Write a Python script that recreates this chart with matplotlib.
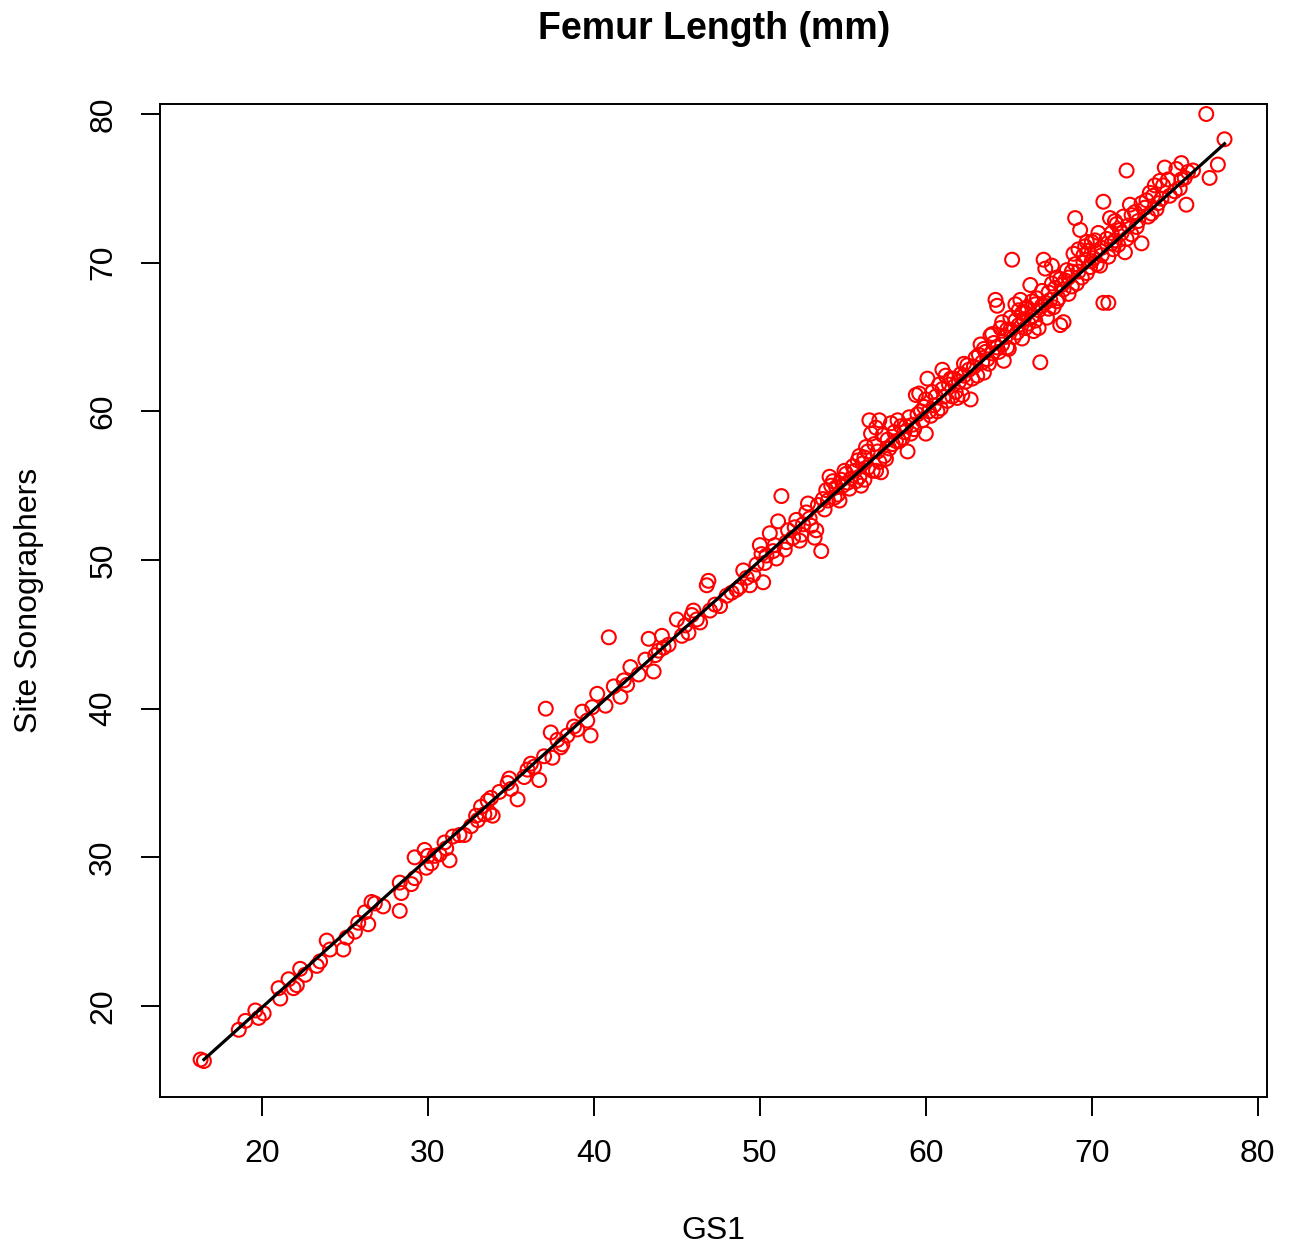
import numpy as np
import matplotlib.pyplot as plt

# Femur length: GS1 vs site sonographers (mm)
# values, (GS1, site) pairs

seg_under30 = [(16.3, 16.4), (16.5, 16.3), (18.6, 18.4), (19.0, 19.0), (19.6, 19.7),
               (19.8, 19.2), (20.1, 19.5), (21.0, 21.2), (21.1, 20.5), (21.6, 21.8),
               (21.9, 21.2), (22.1, 21.4), (22.3, 22.5), (22.6, 22.1), (23.3, 22.7),
               (23.5, 23.0), (23.9, 24.4), (24.1, 23.8), (24.9, 23.8), (25.1, 24.6),
               (25.6, 25.0), (25.8, 25.6), (26.2, 26.3), (26.4, 25.5), (26.6, 27.0),
               (26.8, 26.9), (27.3, 26.7), (28.3, 28.3), (28.3, 26.4), (28.4, 27.6),
               (29.0, 28.2), (29.2, 28.6), (29.2, 30.0), (29.8, 30.5), (29.9, 29.3)]

seg_30s = [(30.2, 29.6), (30.4, 30.1), (30.7, 30.2), (31.0, 31.0), (31.1, 30.6),
           (31.3, 29.8), (31.9, 31.5), (32.2, 31.5), (32.6, 32.1), (33.0, 32.5),
           (33.2, 33.4), (33.4, 32.9), (33.6, 33.8), (33.7, 33.0), (33.8, 34.0),
           (33.9, 32.8), (34.3, 34.4), (34.8, 35.0), (34.9, 35.3), (35.4, 33.9),
           (35.8, 35.4), (36.0, 35.9), (36.2, 36.3), (36.7, 35.2), (37.0, 36.8),
           (37.1, 40.0), (37.4, 38.4), (37.5, 36.7), (37.8, 37.9), (38.1, 37.6),
           (38.4, 38.2), (38.8, 38.8), (39.3, 39.8), (39.6, 39.2), (39.8, 38.2),
           (39.9, 40.1), (30.0, 30.1), (31.5, 31.4), (32.9, 32.8), (35.0, 34.6),
           (36.4, 36.1), (38.0, 37.4), (39.0, 38.6)]

seg_40s = [(40.2, 41.0), (40.7, 40.2), (40.9, 44.8), (41.2, 41.5), (41.6, 40.8),
           (41.8, 41.9), (42.0, 41.6), (42.2, 42.8), (42.7, 42.3), (43.1, 43.3),
           (43.3, 44.7), (43.6, 42.5), (43.7, 43.6), (43.9, 43.9), (44.1, 44.9),
           (44.2, 44.1), (45.0, 46.0), (45.3, 44.9), (45.7, 45.1), (45.9, 46.3),
           (46.0, 46.6), (46.4, 45.8), (46.8, 48.3), (46.9, 48.6), (47.3, 47.0),
           (47.6, 46.9), (48.3, 47.8), (48.6, 48.0), (48.8, 48.2), (49.0, 49.3),
           (49.4, 48.3), (49.6, 49.0), (49.8, 49.7), (44.5, 44.3), (45.5, 45.6),
           (46.2, 46.0), (47.0, 46.6), (48.0, 47.6), (49.2, 48.8)]

seg_50s = [(50.0, 51.0), (50.1, 50.4), (50.2, 48.5), (50.4, 50.3), (50.6, 51.8),
           (50.9, 51.0), (51.1, 52.6), (51.3, 54.3), (51.5, 50.7), (51.6, 51.2),
           (51.7, 52.0), (52.0, 51.5), (52.2, 52.7), (52.4, 51.3), (52.6, 52.4),
           (52.8, 53.2), (52.9, 53.8), (53.1, 52.3), (53.3, 51.5), (53.4, 52.0),
           (53.5, 53.7), (53.7, 50.6), (53.8, 54.1), (54.0, 54.7), (54.2, 55.6),
           (54.3, 55.0), (54.5, 54.2), (54.7, 54.4), (54.9, 55.4), (55.1, 56.0),
           (55.3, 55.2), (55.5, 55.5), (55.6, 56.3), (55.9, 56.7), (56.0, 55.6),
           (56.1, 55.0), (56.3, 56.9), (56.4, 57.6), (56.5, 56.2), (56.6, 59.4),
           (56.7, 58.5), (56.8, 56.0), (57.0, 56.0), (57.1, 57.3), (57.2, 59.4),
           (57.3, 55.9), (57.5, 57.0), (57.7, 58.1), (57.8, 57.5), (58.0, 57.8),
           (58.1, 58.6), (58.3, 59.4), (58.4, 58.0), (58.6, 58.2), (58.8, 59.0),
           (58.9, 57.3), (59.1, 58.5), (59.2, 59.1), (59.4, 61.1), (59.5, 59.8),
           (59.6, 61.2), (59.8, 59.4), (59.9, 60.3), (50.3, 49.8), (50.8, 50.6),
           (51.0, 50.1), (52.1, 52.2), (52.5, 51.7), (53.0, 52.8), (53.9, 53.4),
           (54.1, 54.0), (54.4, 55.3), (54.6, 54.9), (54.8, 54.0), (55.0, 55.0),
           (55.2, 55.8), (55.4, 54.8), (55.7, 56.0), (55.8, 55.3), (56.0, 57.0),
           (56.2, 56.5), (56.3, 55.4), (56.5, 57.3), (56.9, 57.8), (57.0, 58.9),
           (57.2, 56.6), (57.4, 58.4), (57.6, 56.8), (57.9, 59.2), (58.2, 58.0),
           (58.5, 59.0), (58.7, 58.6), (59.0, 59.6), (59.3, 58.8), (59.7, 60.0)]

seg_60s = [(60.0, 58.5), (60.1, 62.2), (60.2, 60.0), (60.3, 59.7), (60.5, 60.4),
           (60.6, 61.0), (60.8, 61.8), (60.9, 60.2), (61.0, 62.8), (61.1, 61.0),
           (61.3, 60.7), (61.4, 61.8), (61.5, 62.2), (61.7, 62.2), (61.8, 61.3),
           (61.9, 60.9), (62.1, 62.5), (62.2, 61.1), (62.3, 63.2), (62.4, 62.0),
           (62.6, 62.8), (62.7, 60.8), (62.9, 63.0), (63.0, 63.6), (63.1, 62.4),
           (63.3, 64.5), (63.4, 63.3), (63.5, 62.6), (63.6, 64.0), (63.7, 63.5),
           (63.9, 65.1), (64.0, 63.9), (64.1, 64.6), (64.2, 67.5), (64.3, 67.1),
           (64.4, 64.0), (64.5, 65.6), (64.6, 64.5), (64.7, 63.4), (64.8, 65.0),
           (64.9, 65.5), (65.0, 64.2), (65.1, 66.3), (65.2, 70.2), (65.3, 65.0),
           (65.4, 66.1), (65.5, 65.3), (65.6, 66.8), (65.7, 67.5), (65.8, 64.9),
           (65.9, 66.2), (66.0, 65.6), (66.1, 67.0), (66.3, 68.5), (66.4, 66.4),
           (66.5, 65.4), (66.6, 66.1), (66.7, 67.6), (66.8, 66.8), (66.9, 63.3),
           (67.0, 67.1), (67.1, 70.2), (67.2, 69.6), (67.3, 66.3), (67.4, 68.0),
           (67.5, 67.5), (67.6, 69.8), (67.7, 67.0), (67.8, 68.3), (67.9, 69.0),
           (68.0, 67.6), (68.1, 65.8), (68.2, 68.5), (68.3, 66.0), (68.4, 68.8),
           (68.5, 69.5), (68.6, 67.9), (68.8, 69.4), (68.9, 70.6), (69.0, 73.0),
           (69.1, 68.6), (69.2, 70.9), (69.3, 72.2), (69.4, 69.0), (69.5, 70.0),
           (69.6, 71.1), (69.7, 69.3), (69.8, 70.8), (69.9, 69.7), (60.0, 60.8),
           (60.4, 61.3), (60.7, 60.0), (61.0, 61.5), (61.2, 62.4), (61.6, 61.0),
           (62.0, 62.0), (62.3, 62.4), (62.5, 63.1), (62.8, 62.2), (63.2, 63.8),
           (63.5, 64.2), (63.8, 63.2), (64.0, 65.2), (64.3, 64.3), (64.6, 66.0),
           (64.9, 64.3), (65.1, 65.5), (65.4, 67.2), (65.6, 65.8), (65.8, 66.6),
           (66.0, 66.9), (66.2, 65.9), (66.4, 67.4), (66.6, 67.2), (66.8, 65.6),
           (67.0, 68.1), (67.2, 67.3), (67.4, 66.9), (67.6, 68.6), (67.9, 67.4),
           (68.1, 68.9), (68.3, 68.2), (68.6, 69.0), (68.8, 68.4), (69.0, 69.9),
           (69.2, 69.4), (69.5, 70.5), (69.7, 71.4)]

seg_70s = [(70.0, 71.4), (70.1, 70.3), (70.2, 71.5), (70.3, 69.9), (70.5, 69.8),
           (70.6, 71.0), (70.7, 74.1), (70.7, 67.3), (71.0, 67.3), (71.0, 70.4),
           (71.1, 73.0), (71.2, 72.0), (71.3, 70.9), (71.4, 71.5), (71.5, 72.6),
           (71.6, 71.2), (71.7, 72.2), (71.9, 73.1), (72.0, 70.7), (72.1, 76.2),
           (72.2, 72.5), (72.3, 73.9), (72.4, 71.9), (72.6, 73.4), (72.8, 72.8),
           (73.0, 71.3), (73.2, 73.7), (73.3, 74.2), (73.5, 74.7), (73.6, 73.3),
           (73.8, 75.2), (73.9, 73.6), (74.1, 75.5), (74.2, 74.3), (74.4, 76.4),
           (74.7, 74.5), (75.1, 76.3), (75.3, 75.0), (75.4, 76.7), (75.6, 75.7),
           (75.7, 73.9), (76.1, 76.2), (76.9, 80.0), (77.1, 75.7), (77.6, 76.6),
           (78.0, 78.3), (70.0, 70.1), (70.2, 70.8), (70.4, 72.0), (70.6, 70.5),
           (70.9, 71.6), (71.2, 71.3), (71.4, 72.8), (71.8, 72.0), (72.1, 71.6),
           (72.4, 73.2), (72.7, 72.4), (73.0, 74.0), (73.4, 73.1), (73.7, 74.5),
           (74.0, 74.0), (74.3, 75.2), (74.6, 75.6), (75.0, 74.8), (75.4, 75.6),
           (75.8, 76.1)]

# fitted line end points
fit_x = [16.5, 78.0]
fit_y = [16.4, 78.0]

ticks = [20, 30, 40, 50, 60, 70, 80]

#----------------------------------
pts = np.array(seg_under30 + seg_30s + seg_40s + seg_50s + seg_60s + seg_70s)
gs1 = pts[:, 0]
site = pts[:, 1]

plt.rcParams['font.family'] = ['Liberation Sans', 'DejaVu Sans']

fig = plt.figure(figsize=(12.94, 12.49), dpi=100)
ax = fig.add_axes([0.1236, 0.1217, 0.8554, 0.7950])

ax.scatter(gs1, site, s=100, facecolors='none', edgecolors='red', linewidths=1.5, zorder=2)
ax.plot(fit_x, fit_y, color='black', lw=2.3, zorder=3)

ax.set_xlim(13.85, 80.55)
ax.set_ylim(13.88, 80.67)
ax.set_xticks(ticks)
ax.set_yticks(ticks)
ax.tick_params(direction='out', length=14, width=1.4, labelsize=23, pad=16)
for lab in ax.get_yticklabels():
    lab.set_rotation(90)
    lab.set_va('center')
for sp in ax.spines.values():
    sp.set_linewidth(1.4)

ax.set_xlabel('GS1', fontsize=23, labelpad=34)
ax.set_ylabel('Site Sonographers', fontsize=23, labelpad=32)
fig.text(0.5515, 0.977, 'Femur Length (mm)', ha='center', va='center',
         fontsize=27, fontweight='bold')

plt.savefig('out.png', dpi=100)
